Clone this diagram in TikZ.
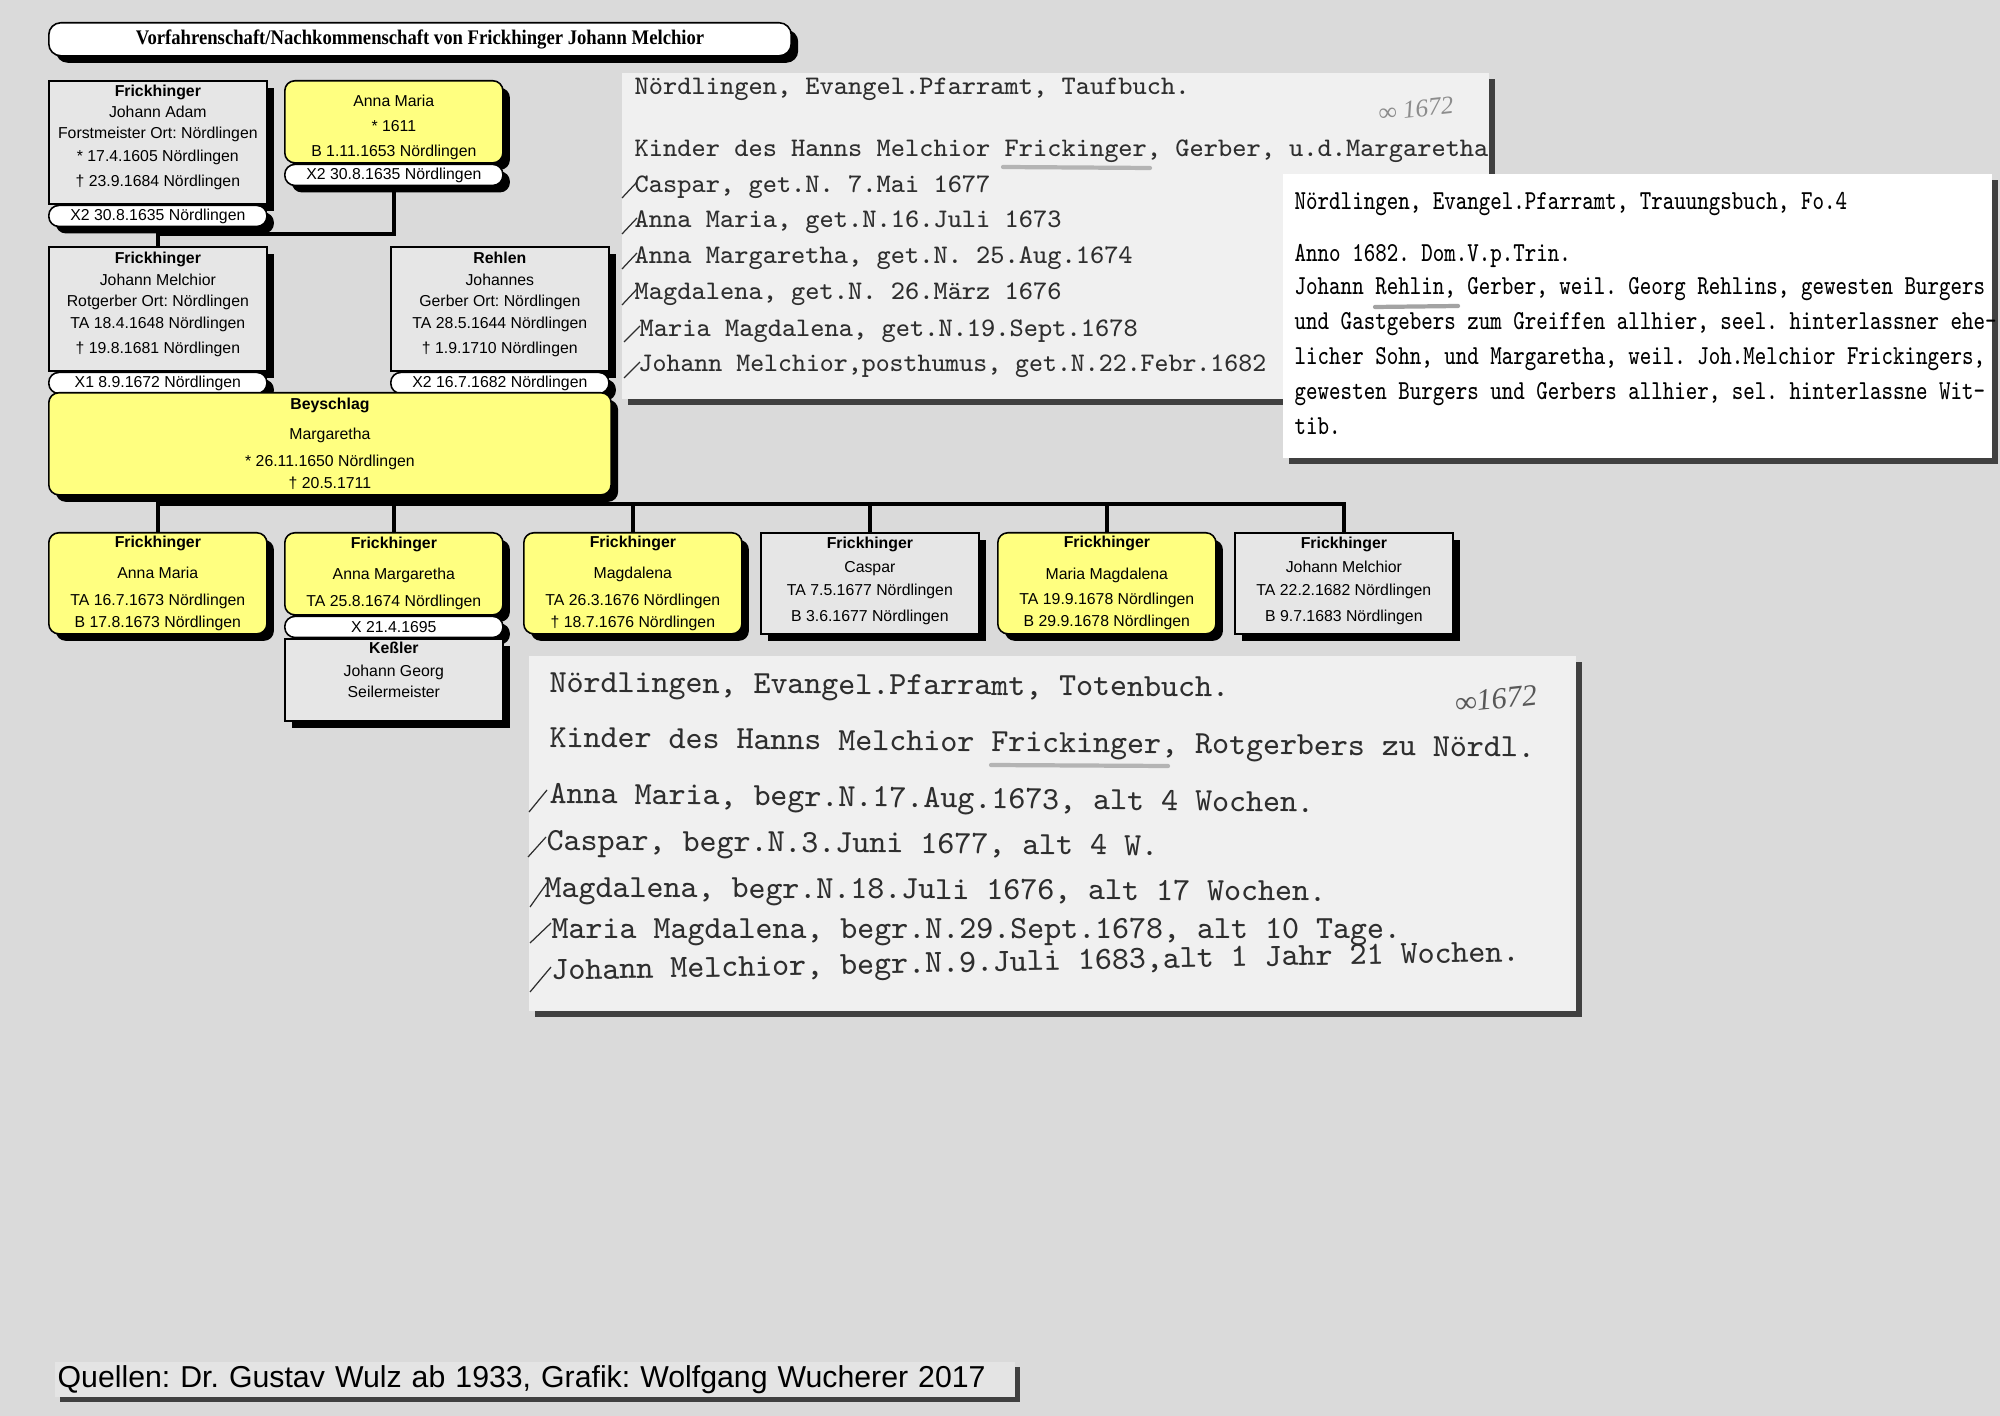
\documentclass[tikz,border=0pt]{standalone}
\usepackage{fontspec}
\setmainfont{Liberation Sans}
\newfontfamily\titlefont[FakeStretch=0.9]{Liberation Serif}
\newfontfamily\handfont{Liberation Serif}
\usetikzlibrary{positioning, shadows}
\AtBeginDocument{\frenchspacing}

\definecolor{canvas}{HTML}{DADADA}
\definecolor{persongrey}{HTML}{E6E6E6}
\definecolor{personyellow}{HTML}{FFFF80}
\definecolor{paper}{HTML}{F0F0F0}
\definecolor{footergrey}{HTML}{E4E4E4}
\definecolor{ink}{HTML}{2E2E2E}
\definecolor{pencil}{HTML}{8C8C8C}

\begin{document}
\begin{tikzpicture}[
    x=0.01cm, y=-0.01cm,
    hardshadow/.style={drop shadow={shadow xshift=0.07cm, shadow yshift=-0.07cm, fill=black, opacity=1}},
    titlebox/.style={draw, line width=0.45pt, fill=white, rounded corners=0.12cm, hardshadow, anchor=north west,
        minimum width=7.42cm, minimum height=0.33cm, inner sep=0pt, font=\titlefont\bfseries\fontsize{5.9}{7}\selectfont},
    person/.style={draw, line width=0.45pt, inner sep=0pt, anchor=north west, align=center,
        minimum width=2.18cm, font=\fontsize{4.5}{6.4}\selectfont, hardshadow},
    greyperson/.style={person, fill=persongrey},
    yellowperson/.style={person, fill=personyellow, rounded corners=0.1cm},
    marriage/.style={person, fill=white, rounded corners=0.1cm, minimum height=0.21cm},
    link/.style={line width=1pt},
    scan/.style={anchor=north west, inner sep=0pt, fill=paper,
        drop shadow={shadow xshift=0.06cm, shadow yshift=-0.06cm, fill=black!75, opacity=1}},
    taufline/.style={anchor=base west, inner sep=0pt, text=ink, font=\ttfamily\fontsize{7.62}{9}\selectfont},
    trauline/.style={anchor=base west, inner sep=0pt, text=black, font=\ttfamily\fontsize{7.8}{9}\selectfont},
    totenline/.style={anchor=base west, inner sep=0pt, text=ink, font=\ttfamily\fontsize{9.2}{10}\selectfont},
    tick/.style={draw=ink, line width=0.35pt},
    smudge/.style={draw=pencil, line width=1.2pt, opacity=0.6, line cap=round},
    year/.style={inner sep=0pt, text=pencil, font=\handfont\itshape\fontsize{7.2}{8}\selectfont},
    footer/.style={anchor=north west, fill=footergrey, inner xsep=0.03cm, inner ysep=0pt, text width=9.54cm, align=left,
        minimum height=0.35cm, font=\fontsize{8.6}{10}\selectfont,
        drop shadow={shadow xshift=0.05cm, shadow yshift=-0.05cm, fill=black!75, opacity=1}}
]
\useasboundingbox (0,0) rectangle (2000,1416);
\fill[canvas] (0,0) rectangle (2000,1416);

% title
\node[titlebox] (title) at (48,22) {Vorfahrenschaft/Nachkommenschaft von Frickhinger Johann Melchior};

% parents of Johann Melchior
\node[greyperson, minimum height=1.23cm] (adam) at (48,80) {\textbf{Frickhinger}\\[-0.4pt]Johann Adam\\[-0.7pt]Forstmeister Ort: Nördlingen\\[0.4pt]* 17.4.1605 Nördlingen\\[0.7pt]† 23.9.1684 Nördlingen\\[-2.9pt]\mbox{}};
\node[marriage, below=0pt of adam] (adamX) {X2 30.8.1635 Nördlingen};
\node[yellowperson, minimum height=0.82cm] (anna) at (284,80) {\mbox{}\\[0.2pt]Anna Maria\\[0.7pt]* 1611\\[0.7pt]B 1.11.1653 Nördlingen};
\node[marriage, below=0pt of anna] (annaX) {X2 30.8.1635 Nördlingen};

% the couple
\node[greyperson, minimum height=1.24cm] (melchior) at (48,246) {\textbf{Frickhinger}\\[-0.1pt]Johann Melchior\\[-0.4pt]Rotgerber Ort: Nördlingen\\[-0.1pt]TA 18.4.1648 Nördlingen\\[0.7pt]† 19.8.1681 Nördlingen\\[-3pt]\mbox{}};
\node[marriage, below=0pt of melchior] (melchiorX) {X1 8.9.1672 Nördlingen};
\node[greyperson, minimum height=1.24cm] (rehlen) at (390,246) {\textbf{Rehlen}\\[-0.1pt]Johannes\\[-0.4pt]Gerber Ort: Nördlingen\\[-0.1pt]TA 28.5.1644 Nördlingen\\[0.7pt]† 1.9.1710 Nördlingen\\[-3pt]\mbox{}};
\node[marriage, below=0pt of rehlen] (rehlenX) {X2 16.7.1682 Nördlingen};
\node[yellowperson, minimum width=5.62cm, minimum height=1.02cm] (beyschlag) at (48,392) {\textbf{Beyschlag}\\[2.1pt]Margaretha\\[1.3pt]* 26.11.1650 Nördlingen\\[0pt]† 20.5.1711};

% children
\node[yellowperson, minimum height=1.01cm] (kid1) at (48,532) {\textbf{Frickhinger}\\[2.4pt]Anna Maria\\[1.3pt]TA 16.7.1673 Nördlingen\\B 17.8.1673 Nördlingen};
\node[yellowperson, minimum height=0.82cm] (kid2) at (284,532) {\textbf{Frickhinger}\\[2.4pt]Anna Margaretha\\[1.3pt]TA 25.8.1674 Nördlingen};
\node[marriage, below=0pt of kid2] (kid2X) {X 21.4.1695};
\node[greyperson, minimum height=0.82cm, below=0pt of kid2X] (kessler) {\textbf{Keßler}\\[0.1pt]Johann Georg\\[-0.4pt]Seilermeister\\[-0.8pt]\mbox{}};
\node[yellowperson, minimum height=1.01cm] (kid3) at (523,532) {\textbf{Frickhinger}\\[2.4pt]Magdalena\\[1.3pt]TA 26.3.1676 Nördlingen\\† 18.7.1676 Nördlingen};
\node[greyperson, minimum height=1.01cm] (kid4) at (760,532) {\textbf{Frickhinger}\\[0.4pt]Caspar\\TA 7.5.1677 Nördlingen\\[1pt]B 3.6.1677 Nördlingen\\[-4pt]\mbox{}};
\node[yellowperson, minimum height=1.01cm] (kid5) at (997,532) {\textbf{Frickhinger}\\[2.6pt]Maria Magdalena\\[0.7pt]TA 19.9.1678 Nördlingen\\B 29.9.1678 Nördlingen};
\node[greyperson, minimum height=1.01cm] (kid6) at (1234,532) {\textbf{Frickhinger}\\[0.4pt]Johann Melchior\\TA 22.2.1682 Nördlingen\\[1pt]B 9.7.1683 Nördlingen\\[-4pt]\mbox{}};

% lines
\coordinate (parents) at (157,234);
\coordinate (children) at (329,504);
\draw[link] (adamX.south) -- (melchior.north);
\draw[link] (annaX.south) |- (parents);
\draw[link] (beyschlag.south) -- (children);
\draw[link] (kid1.north) |- (children);
\draw[link] (kid2.north) |- (children);
\draw[link] (kid3.north) |- (children);
\draw[link] (kid4.north) |- (children);
\draw[link] (kid5.north) |- (children);
\draw[link] (kid6.north) |- (children);

% baptism register
\node[scan, minimum width=8.67cm, minimum height=3.26cm] (taufbuch) at (621,72) {};
\node[taufline] (tauf0) at (634,95) {Nördlingen, Evangel.Pfarramt, Taufbuch.};
\node[taufline] (tauf1) at (634,157) {Kinder des Hanns Melchior Frickinger, Gerber, u.d.Margaretha};
\node[taufline] (tauf2) at (634,193) {Caspar, get.N. 7.Mai 1677};
\node[taufline] (tauf3) at (634,228) {Anna Maria, get.N.16.Juli 1673};
\node[taufline] (tauf4) at (634,264) {Anna Margaretha, get.N. 25.Aug.1674};
\node[taufline] (tauf5) at (634,300) {Magdalena, get.N. 26.März 1676};
\node[taufline] (tauf6) at (639,337) {Maria Magdalena, get.N.19.Sept.1678};
\node[taufline] (tauf7) at (638,372) {\scalebox{0.98}[1]{Johann Melchior,posthumus, get.N.22.Febr.1682}};
\node[year, rotate=6] (taufyear) at (1416,109) {∞ 1672};
\draw[smudge] (1003,167) -- (1150,168);
\draw[tick] (622,198) -- (637,182) (622,234) -- (637,218) (622,269) -- (637,253)
    (622,305) -- (637,289) (624,342) -- (640,326) (624,378) -- (640,362);

% marriage register
\node[scan, fill=white, minimum width=7.09cm, minimum height=2.84cm] (trauungsbuch) at (1282,173) {};
\node[trauline] (trau0) at (1294,210) {\scalebox{0.79}[1]{Nördlingen, Evangel.Pfarramt, Trauungsbuch, Fo.4}};
\node[trauline] (trau1) at (1294,262) {\scalebox{0.79}[1]{Anno 1682. Dom.V.p.Trin.}};
\node[trauline] (trau2) at (1294,295) {\scalebox{0.79}[1]{Johann Rehlin, Gerber, weil. Georg Rehlins, gewesten Burgers}};
\node[trauline] (trau3) at (1294,330) {\scalebox{0.79}[1]{und Gastgebers zum Greiffen allhier, seel. hinterlassner ehe-}};
\node[trauline] (trau4) at (1294,365) {\scalebox{0.79}[1]{licher Sohn, und Margaretha, weil. Joh.Melchior Frickingers,}};
\node[trauline] (trau5) at (1294,400) {\scalebox{0.79}[1]{gewesten Burgers und Gerbers allhier, sel. hinterlassne Wit-}};
\node[trauline] (trau6) at (1294,435) {\scalebox{0.79}[1]{tib.}};
\draw[smudge, opacity=0.8] (1375,307) -- (1458,306);

% burial register
\node[scan, minimum width=10.47cm, minimum height=3.55cm] (totenbuch) at (528,655) {};
\node[totenline, rotate=-0.4] (toten0) at (549,692) {Nördlingen, Evangel.Pfarramt, Totenbuch.};
\node[totenline, rotate=-0.6] (toten1) at (549,747) {Kinder des Hanns Melchior Frickinger, Rotgerbers zu Nördl.};
\node[totenline, rotate=-0.7] (toten2) at (549,803) {Anna Maria, begr.N.17.Aug.1673, alt 4 Wochen.};
\node[totenline, rotate=-0.5] (toten3) at (546,850) {Caspar, begr.N.3.Juni 1677, alt 4 W.};
\node[totenline, rotate=-0.3] (toten4) at (544,897) {Magdalena, begr.N.18.Juli 1676, alt 17 Wochen.};
\node[totenline] (toten5) at (551,938) {Maria Magdalena, begr.N.29.Sept.1678, alt 10 Tage.};
\node[totenline, rotate=1.1] (toten6) at (551,980) {Johann Melchior, begr.N.9.Juli 1683,alt 1 Jahr 21 Wochen.};
\node[year, rotate=6, text=ink!80, font=\handfont\itshape\fontsize{8.6}{9}\selectfont] (totenyear) at (1496,699) {∞1672};
\draw[smudge] (991,765) -- (1168,766);
\draw[tick] (529,812) -- (547,790) (528,857) -- (546,837) (530,907) -- (547,883)
    (530,943) -- (551,923) (530,992) -- (551,967);

% sources
\node[footer] (sources) at (54,1361) {Quellen: Dr. Gustav Wulz ab 1933, Grafik: Wolfgang Wucherer 2017};
\end{tikzpicture}
\end{document}
